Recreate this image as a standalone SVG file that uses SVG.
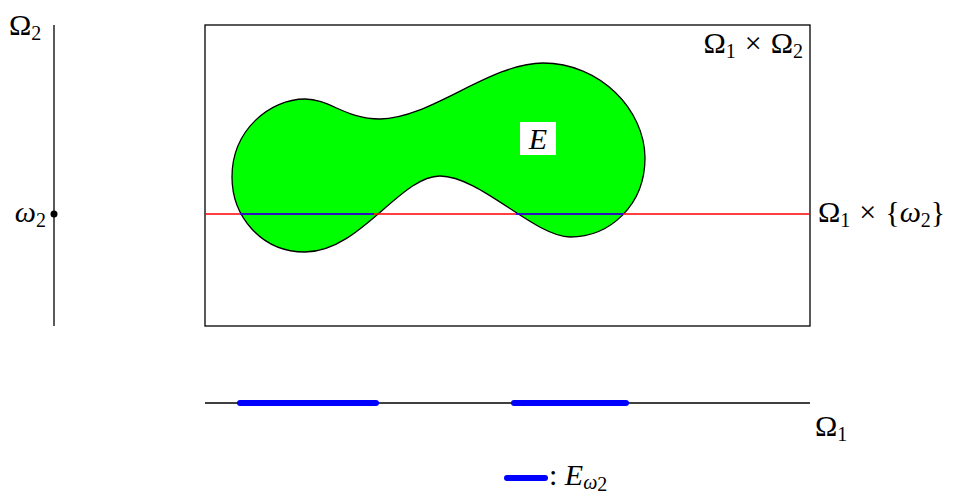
<svg xmlns="http://www.w3.org/2000/svg" width="957" height="494" viewBox="0 0 957 494">
<style>
text{font-family:"Liberation Serif","DejaVu Serif",serif;font-size:30px;fill:#000}
.sub{font-size:20px}
.it{font-style:italic}
.ln{stroke:#000;stroke-width:1.3;fill:none}
.thick{stroke:#0000ff;stroke-width:6;stroke-linecap:round}
</style>
<rect width="957" height="494" fill="#fff"/>
<g id="axis2">
<line class="ln" x1="54" y1="25" x2="54" y2="326"/>
<circle cx="54" cy="214" r="3.5" fill="#000"/>
<text x="9" y="35">Ω<tspan class="sub" dy="5">2</tspan></text>
<text class="it" x="46" y="222" text-anchor="end">ω<tspan class="sub" dy="5" font-style="normal">2</tspan></text>
</g>
<g id="frame">
<rect class="ln" x="205" y="25" width="605" height="301"/>
<text x="803" y="53" text-anchor="end">Ω<tspan class="sub" dy="5">1</tspan><tspan dy="-5" dx="9">×</tspan><tspan dx="9">Ω</tspan><tspan class="sub" dy="5">2</tspan></text>
</g>
<g id="E">
<path d="M232,177 C232,130 270,99 305,99 C330,99 345,119 380,119 C430,119 490,63 543,63 C600,63 645,110 645,158 C645,205 610,237 570,237 C535,237 480,176 440,176 C400,176 360,252 305,252 C260,252 232,215 232,177 Z" fill="#00ff00" stroke="#000" stroke-width="1.3"/>
<rect x="520" y="122" width="36" height="33" fill="#fff"/>
<text class="it" x="538" y="149" text-anchor="middle">E</text>
</g>
<g id="connectors">
<line x1="205" y1="214" x2="810" y2="214" stroke="#ff0000" stroke-width="1.3"/>
<line x1="240" y1="214" x2="374" y2="214" stroke="#0000ff" stroke-width="1.3"/>
<line x1="516" y1="214" x2="623" y2="214" stroke="#0000ff" stroke-width="1.3"/>
</g>
<g id="slice">
<text x="818" y="222">Ω<tspan class="sub" dy="5">1</tspan><tspan dy="-5" dx="9">×</tspan><tspan dx="9">{</tspan><tspan class="it">ω</tspan><tspan class="sub" dy="5">2</tspan><tspan dy="-5">}</tspan></text>
</g>
<g id="axis1">
<line class="ln" x1="205" y1="403" x2="810" y2="403"/>
<line class="thick" x1="240" y1="403" x2="376" y2="403"/>
<line class="thick" x1="514" y1="403" x2="626" y2="403"/>
<text x="815" y="436">Ω<tspan class="sub" dy="5">1</tspan></text>
</g>
<g id="legend">
<line class="thick" x1="507" y1="478" x2="545" y2="478"/>
<text x="549" y="485">: <tspan class="it">E</tspan><tspan class="sub it" dy="4">ω</tspan><tspan class="sub" dy="2" font-size="13">2</tspan></text>
</g>
</svg>
